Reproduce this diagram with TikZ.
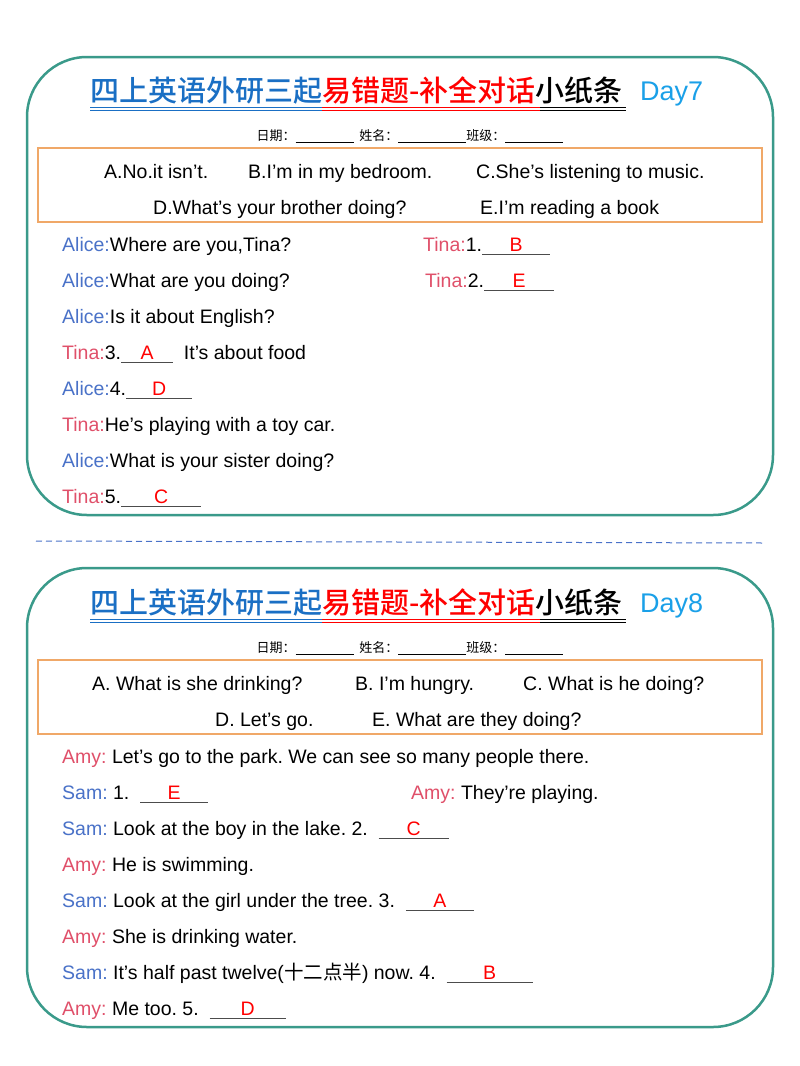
\documentclass[tikz,border=0pt]{standalone}
\usepackage{fontspec}
\setmainfont{Liberation Sans}
\newfontfamily\cjk{Noto Sans CJK SC}
\newfontfamily\cjkm{Noto Sans CJK SC Medium}
\frenchspacing
\definecolor{tblue}{HTML}{1A6FC4}
\definecolor{ablue}{HTML}{4A72C8}
\definecolor{tpink}{HTML}{E0506A}
\definecolor{dcyan}{HTML}{1AA0E8}
\definecolor{teal}{HTML}{3A9A8A}
\definecolor{orng}{HTML}{F0A868}
\newcommand\blk[2]{\makebox[#1][c]{\textcolor{red}{#2}}\llap{\color{black!70}\rule[-4pt]{#1}{0.8pt}}}
\newcommand\Al{\textcolor{ablue}{Alice:}}
\newcommand\Ti{\textcolor{tpink}{Tina:}}
\newcommand\Am{\textcolor{tpink}{Amy:} }
\newcommand\Sa{\textcolor{ablue}{Sam:} }
\begin{document}
\begin{tikzpicture}[x=1pt,y=-1pt,
  card/.style={draw=teal,line width=2.5pt,rounded corners=60pt},
  opts/.style={draw=orng,line width=1.8pt},
  ln/.style={anchor=base west,inner sep=0pt,font=\fontsize{19.5}{22}\selectfont\frenchspacing},
  hdr/.style={inner sep=0pt,font=\cjk\fontsize{13}{15}\selectfont},
  ttl/.style={anchor=base west,inner sep=0pt,font=\cjkm\fontsize{29}{32}\selectfont}]
\useasboundingbox (0,0) rectangle (800,1066);
\fill[white] (0,0) rectangle (800,1066);
% ---------- Card 1
\draw[card] (27,57) rectangle (773,515);
\node[ttl] (t1) at (90,101) {\textcolor{tblue}{四上英语外研三起}\textcolor{red}{易错题-补全对话}小纸条};
\node[anchor=base west,inner sep=0pt,font=\fontsize{27}{30}\selectfont,text=dcyan] (d1) at (640,100) {Day7};
\draw[tblue,line width=1pt] (90,107)--(322,107) (90,110)--(322,110);
\draw[red,line width=1pt] (322,107)--(540,107) (322,110)--(540,110);
\draw[black,line width=1pt] (540,107)--(626,107) (540,110)--(626,110);
\node[hdr] (h1) at (410,136) {日期：\rule[-2pt]{58pt}{0.6pt}\ \ 姓名：\rule[-2pt]{68pt}{0.6pt}班级：\rule[-2pt]{58pt}{0.6pt}};
\draw[opts] (38,148) rectangle (762,222);
\node[ln] (o1) at (104,178) {A.No.it isn’t.};
\node[ln] (o2) at (248,178) {B.I’m in my bedroom.};
\node[ln] (o3) at (476,178) {C.She’s listening to music.};
\node[ln] (o4) at (153,214) {D.What’s your brother doing?};
\node[ln] (o5) at (480,214) {E.I’m reading a book};
\node[ln] (a1) at (62,251) {\Al Where are you,Tina?};
\node[ln] (b1) at (423,251) {\Ti 1.\blk{68pt}{B}};
\node[ln] (a2) at (62,287) {\Al What are you doing?};
\node[ln] (b2) at (425,287) {\Ti 2.\blk{70pt}{E}};
\node[ln] (a3) at (62,323) {\Al Is it about English?};
\node[ln] (a4) at (62,359) {\Ti 3.\blk{52pt}{A}\ \ It’s about food};
\node[ln] (a5) at (62,395) {\Al 4.\blk{66pt}{D}};
\node[ln] (a6) at (62,431) {\Ti He’s playing with a toy car.};
\node[ln] (a7) at (62,467) {\Al What is your sister doing?};
\node[ln] (a8) at (62,503) {\Ti 5.\blk{80pt}{C}};
% divider
\draw[ablue,line width=1pt,dash pattern=on 6pt off 4pt] (36,541)--(764,543);
% ---------- Card 2
\draw[card] (27,568) rectangle (773,1027);
\node[ttl] (t2) at (90,613) {\textcolor{tblue}{四上英语外研三起}\textcolor{red}{易错题-补全对话}小纸条};
\node[anchor=base west,inner sep=0pt,font=\fontsize{27}{30}\selectfont,text=dcyan] (d2) at (640,612) {Day8};
\draw[tblue,line width=1pt] (90,619)--(322,619) (90,622)--(322,622);
\draw[red,line width=1pt] (322,619)--(540,619) (322,622)--(540,622);
\draw[black,line width=1pt] (540,619)--(626,619) (540,622)--(626,622);
\node[hdr] (h2) at (410,648) {日期：\rule[-2pt]{58pt}{0.6pt}\ \ 姓名：\rule[-2pt]{68pt}{0.6pt}班级：\rule[-2pt]{58pt}{0.6pt}};
\draw[opts] (38,660) rectangle (762,734);
\node[ln] (p1) at (92,690) {A. What is she drinking?};
\node[ln] (p2) at (355,690) {B. I’m hungry.};
\node[ln] (p3) at (523,690) {C. What is he doing?};
\node[ln] (p4) at (215,726) {D. Let’s go.};
\node[ln] (p5) at (372,726) {E. What are they doing?};
\node[ln] (c1) at (62,763) {\Am Let’s go to the park. We can see so many people there.};
\node[ln] (c2) at (62,799) {\Sa 1.\ \ \blk{68pt}{E}};
\node[ln] (c3) at (411,799) {\Am They’re playing.};
\node[ln] (c4) at (62,835) {\Sa Look at the boy in the lake. 2.\ \ \blk{70pt}{C}};
\node[ln] (c5) at (62,871) {\Am He is swimming.};
\node[ln] (c6) at (62,907) {\Sa Look at the girl under the tree. 3.\ \ \blk{68pt}{A}};
\node[ln] (c7) at (62,943) {\Am She is drinking water.};
\node[ln] (c8) at (62,979) {\Sa It’s half past twelve({\cjk 十二点半}) now. 4.\ \ \blk{86pt}{B}};
\node[ln] (c9) at (62,1015) {\Am Me too. 5.\ \ \blk{76pt}{D}};
\end{tikzpicture}
\end{document}
